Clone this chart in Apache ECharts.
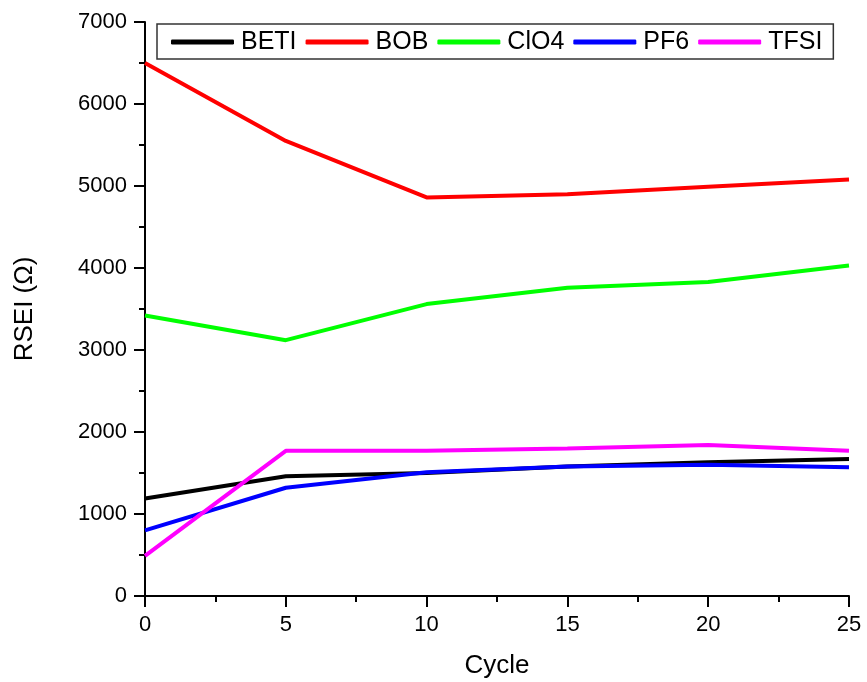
<!DOCTYPE html>
<html><head><meta charset="utf-8">
<script src="https://cdn.jsdelivr.net/npm/echarts@6/dist/echarts.min.js"></script>
<style>html,body{margin:0;padding:0;background:#fff}#c{width:867px;height:682px}</style>
</head><body><div id="c"></div>
<script>
const cycles = [0, 5, 10, 15, 20, 25];
const BETI = [1190, 1460, 1500, 1580, 1630, 1670];
const BOB  = [6500, 5550, 4860, 4900, 4990, 5080];
const ClO4 = [3420, 3120, 3560, 3760, 3830, 4030];
const PF6  = [800, 1320, 1510, 1580, 1600, 1570];
const TFSI = [490, 1770, 1770, 1800, 1840, 1770];
const names = ['BETI', 'BOB', 'ClO4', 'PF6', 'TFSI'];
const seriesData = [BETI, BOB, ClO4, PF6, TFSI];
const colors = ['#000000', '#ff0000', '#00ff00', '#0000ff', '#ff00ff'];

const chart = echarts.init(document.getElementById('c'));
const font = 'Liberation Sans, Arial, sans-serif';
chart.setOption({
  animation: false,
  grid: {left: 145, right: 18, top: 22, bottom: 86, containLabel: false, outerBoundsMode: 'none'},
  legend: {
    data: names, left: 157, top: 24,
    itemWidth: 63, itemHeight: 5, itemGap: 9,
    borderColor: '#333', borderWidth: 1.5, padding: [4, 11, 3, 14],
    textStyle: {fontFamily: font, fontSize: 25, color: '#000', padding: [0, 0, 0, 2], lineHeight: 28},
    icon: 'roundRect'
  },
  xAxis: {
    type: 'value', min: 0, max: 25, interval: 5,
    name: 'Cycle', nameLocation: 'middle', nameGap: 57,
    nameTextStyle: {fontFamily: font, fontSize: 26, color: '#000'},
    axisLine: {lineStyle: {color: '#000', width: 2}},
    axisTick: {show: true, length: 11, lineStyle: {color: '#000', width: 2}},
    minorTick: {show: true, splitNumber: 2, length: 6, lineStyle: {color: '#000', width: 2}},
    axisLabel: {fontFamily: font, fontSize: 22, color: '#000', margin: 18, formatter: v => String(v)},
    splitLine: {show: false}
  },
  yAxis: {
    type: 'value', min: 0, max: 7000, interval: 1000,
    name: 'RSEI (Ω)', nameLocation: 'middle', nameGap: 107, nameRotate: 90,
    nameTextStyle: {fontFamily: font, fontSize: 26, color: '#000'},
    axisLine: {show: true, lineStyle: {color: '#000', width: 2}},
    axisTick: {show: true, length: 11, lineStyle: {color: '#000', width: 2}},
    minorTick: {show: true, splitNumber: 2, length: 6, lineStyle: {color: '#000', width: 2}},
    axisLabel: {fontFamily: font, fontSize: 22, color: '#000', margin: 18, formatter: v => String(v)},
    splitLine: {show: false}
  },
  series: names.map((n, i) => ({
    name: n, type: 'line', showSymbol: false, symbol: 'none',
    data: cycles.map((c, j) => [c, seriesData[i][j]]),
    lineStyle: {color: colors[i], width: 4},
    itemStyle: {color: colors[i]}
  }))
});
</script></body></html>
